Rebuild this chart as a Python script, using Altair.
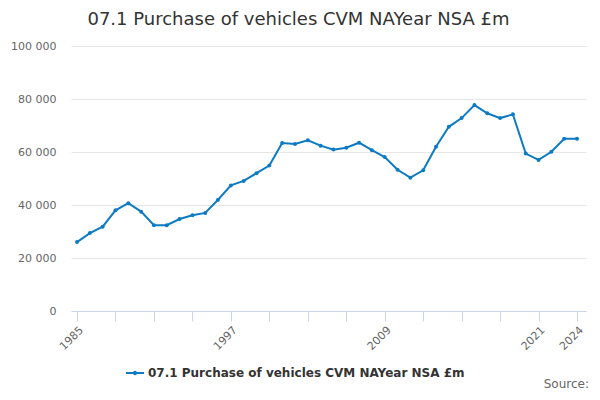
import altair as alt
import pandas as pd

years = list(range(1985, 2025))
values = [26000, 29400, 31800, 38000, 40700, 37500, 32400, 32400, 34700, 36100,
          37000, 42000, 47400, 49100, 52000, 54900, 63400, 63000, 64400, 62400,
          60900, 61600, 63500, 60700, 58100, 53300, 50300, 53100, 62000, 69500,
          72800, 77700, 74600, 72800, 74200, 59400, 57000, 60100, 65000, 65000]
series_name = "07.1 Purchase of vehicles CVM NAYear NSA £m"
tick_years = list(range(1985, 2025, 3))
label_years = [1985, 1997, 2009, 2021, 2024]

df = pd.DataFrame({"year": years, "value": values, "series": series_name})

color = "#0d7bc4"
font = "DejaVu Sans"

legend_path = ("M-1,-0.1H1V0.1H-1Z "
               "M0.24,0A0.24,0.24 0 1 1 -0.24,0A0.24,0.24 0 1 1 0.24,0Z")

line = alt.Chart(df).mark_line(
    strokeWidth=2,
    point=alt.OverlayMarkDef(size=16, filled=True, opacity=1),
).encode(
    x=alt.X("year:Q",
            scale=alt.Scale(domain=[1984.53, 2024.7], nice=False, zero=False),
            axis=alt.Axis(title=None, values=tick_years, grid=False,
                          domainColor="#ccd6eb", tickColor="#ccd6eb", tickSize=10,
                          labelAngle=-45, labelColor="#666666", labelFontSize=11,
                          labelFont=font, labelPadding=3,
                          labelExpr="indexof([" + ",".join(str(y) for y in label_years) +
                                    "], datum.value) >= 0 ? datum.value : ''")),
    y=alt.Y("value:Q",
            scale=alt.Scale(domain=[0, 100000], nice=False),
            axis=alt.Axis(title=None, values=[0, 20000, 40000, 60000, 80000, 100000],
                          domain=False, ticks=False, gridColor="#e6e6e6",
                          labelColor="#666666", labelFontSize=11, labelFont=font,
                          labelPadding=15,
                          labelExpr="replace(format(datum.value, ','), ',', ' ')")),
    color=alt.Color("series:N",
                    scale=alt.Scale(domain=[series_name], range=[color]),
                    legend=alt.Legend(title=None, orient="none", legendX=55, legendY=318,
                                      symbolType=legend_path, symbolSize=324,
                                      symbolStrokeWidth=0, symbolFillColor=color,
                                      labelFont=font, labelFontSize=12,
                                      labelFontWeight="bold", labelColor="#333333",
                                      labelLimit=500)),
)

source = alt.Chart(pd.DataFrame({"t": ["Source:"]})).mark_text(
    align="right", baseline="alphabetic", font=font, fontSize=12, color="#666666"
).encode(x=alt.value(518), y=alt.value(342), text="t:N")

chart = alt.layer(line, source).properties(
    width=515, height=265,
    padding={"left": 63, "top": 38, "right": 6, "bottom": 80},
    autosize=alt.AutoSizeParams(type="none"),
    title=alt.TitleParams(series_name, font=font, fontSize=18, fontWeight="normal",
                          color="#333333", anchor="middle", dx=-30, offset=11),
).configure_view(stroke=None)

chart.save("out.html", embed_options={"renderer": "svg", "actions": False})
